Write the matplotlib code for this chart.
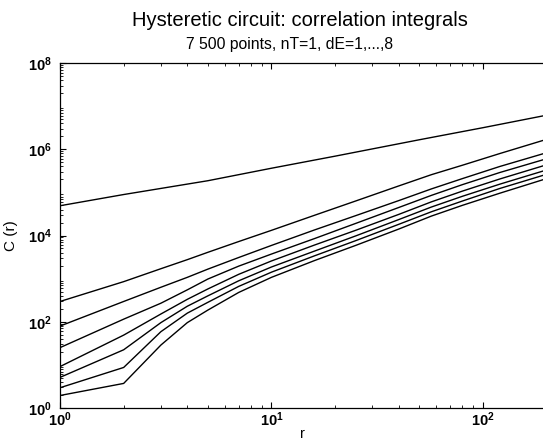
import matplotlib
matplotlib.use("Agg")
import matplotlib.pyplot as plt
import numpy as np
from matplotlib.ticker import LogLocator, FixedLocator, NullFormatter

plt.rcParams['font.family'] = ['Liberation Sans', 'DejaVu Sans']
plt.rcParams['mathtext.fontset'] = 'custom'
plt.rcParams['mathtext.rm'] = 'Liberation Sans'
plt.rcParams['mathtext.bf'] = 'Liberation Sans:bold'

# radius values
r_top = [1, 2, 5, 10, 20, 50, 100, 200]
# log10 C(r) for dE = 1
logC_dE1 = [4.69, 4.95, 5.27, 5.56, 5.84, 6.22, 6.50, 6.79]

r = [1, 2, 3, 4, 5, 7, 10, 16, 25, 40, 57, 80, 120, 200]
# log10 C(r) for dE = 2..8
logC_dE2 = [2.47, 2.93, 3.23, 3.44, 3.61, 3.86, 4.12, 4.47, 4.80, 5.15, 5.41, 5.63, 5.90, 6.23]
logC_dE3 = [1.90, 2.47, 2.80, 3.03, 3.22, 3.49, 3.77, 4.13, 4.46, 4.81, 5.08, 5.32, 5.60, 5.92]
logC_dE4 = [1.40, 2.06, 2.43, 2.74, 2.99, 3.29, 3.57, 3.93, 4.28, 4.65, 4.93, 5.18, 5.46, 5.78]
logC_dE5 = [0.96, 1.69, 2.18, 2.52, 2.76, 3.10, 3.41, 3.78, 4.12, 4.49, 4.78, 5.03, 5.31, 5.64]
logC_dE6 = [0.71, 1.35, 1.98, 2.36, 2.60, 2.95, 3.27, 3.64, 3.99, 4.37, 4.66, 4.91, 5.19, 5.52]
logC_dE7 = [0.47, 0.94, 1.77, 2.20, 2.45, 2.82, 3.15, 3.53, 3.88, 4.26, 4.55, 4.80, 5.09, 5.42]
logC_dE8 = [0.29, 0.57, 1.46, 1.98, 2.27, 2.68, 3.03, 3.42, 3.77, 4.15, 4.45, 4.70, 4.98, 5.32]

title = "Hysteretic circuit: correlation integrals"
subtitle = "7 500 points, nT=1, dE=1,...,8"

fig = plt.figure(figsize=(5.43, 4.41), dpi=100)
ax = fig.add_axes([60/543, 33/441, 1 - 60/543 + 0.002, 345/441])

ax.plot(r_top, 10**np.array(logC_dE1), color='black', lw=1.0)
for ys in [logC_dE2, logC_dE3, logC_dE4, logC_dE5, logC_dE6, logC_dE7, logC_dE8]:
    ax.plot(r, 10**np.array(ys), color='black', lw=1.0)

ax.set_xscale('log')
ax.set_yscale('log')
ax.set_xlim(1, 194.5)
ax.set_ylim(1, 1e8)

ax.yaxis.set_major_locator(FixedLocator([1, 1e2, 1e4, 1e6, 1e8]))
ax.yaxis.set_minor_locator(LogLocator(base=10, subs=np.arange(2, 10), numticks=20))
ax.xaxis.set_major_locator(FixedLocator([1, 10, 100]))
ax.xaxis.set_minor_locator(LogLocator(base=10, subs=np.arange(2, 10), numticks=20))
ax.xaxis.set_minor_formatter(NullFormatter())
ax.yaxis.set_minor_formatter(NullFormatter())
ax.set_yticklabels([r'$\mathbf{10^{0}}$', r'$\mathbf{10^{2}}$', r'$\mathbf{10^{4}}$',
                    r'$\mathbf{10^{6}}$', r'$\mathbf{10^{8}}$'])
ax.set_xticklabels([r'$\mathbf{10^{0}}$', r'$\mathbf{10^{1}}$', r'$\mathbf{10^{2}}$'])

ax.tick_params(which='both', direction='in', top=True, right=False, labelsize=10.5)
ax.tick_params(which='major', length=4, width=0.8)
ax.tick_params(which='minor', length=2, width=0.6)
ax.tick_params(axis='y', pad=6)
ax.tick_params(axis='x', pad=2)
ax.spines['right'].set_visible(False)
for s in ['left', 'top', 'bottom']:
    ax.spines[s].set_linewidth(0.9)

ax.set_xlabel('r', fontsize=10.5, labelpad=-2)
ax.set_ylabel('C (r)', fontsize=11, labelpad=7)

fig.text(300/543, 1 - 20/441, title, ha='center', va='center', fontsize=14.5)
fig.text(290/543, 1 - 45/441, subtitle, ha='center', va='center', fontsize=11.3)

fig.savefig('out.png', dpi=100)
